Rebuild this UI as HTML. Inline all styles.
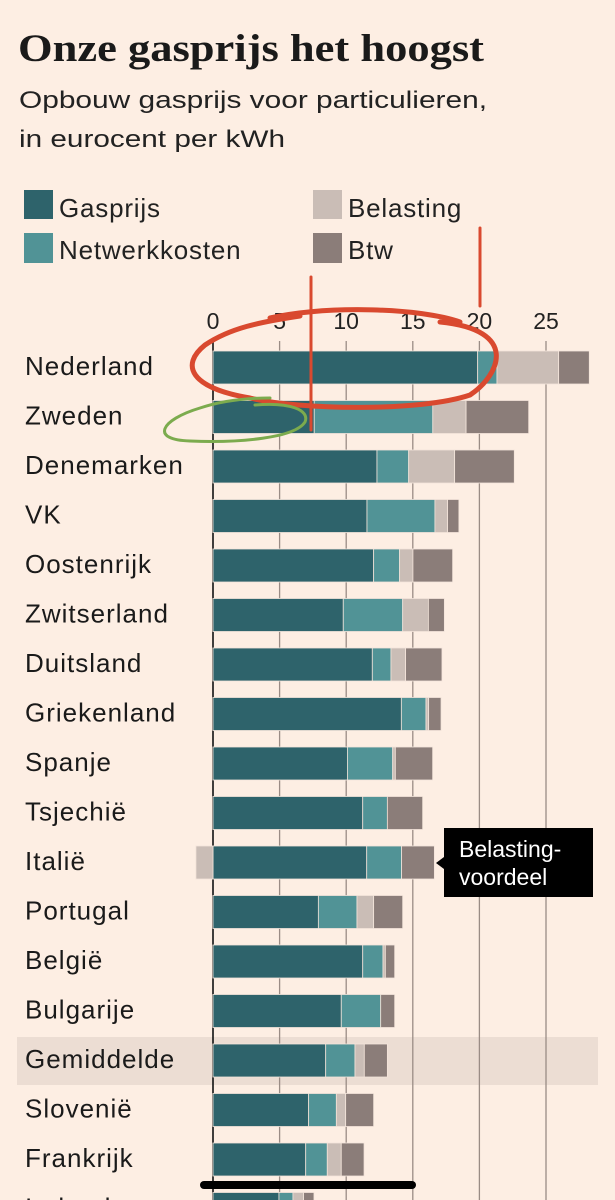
<!DOCTYPE html>
<html><head><meta charset="utf-8">
<style>
html,body{margin:0;padding:0;background:#fdeee3;}
body{width:615px;height:1200px;overflow:hidden;position:relative;font-family:"Liberation Sans",sans-serif;}
svg{position:absolute;left:0;top:0;}
</style></head>
<body>
<svg id="chart" width="615" height="1200" viewBox="0 0 615 1200">
  <rect x="0" y="0" width="615" height="1200" fill="#fdeee3"/>
  <text x="18" y="61" font-family="Liberation Serif, serif" font-weight="bold" font-size="39" fill="#1a1a1a" textLength="466" lengthAdjust="spacingAndGlyphs">Onze gasprijs het hoogst</text>
  <text x="19" y="108" font-size="24" fill="#222" textLength="468" lengthAdjust="spacingAndGlyphs">Opbouw gasprijs voor particulieren,</text>
  <text x="19" y="147" font-size="24" fill="#222" textLength="266" lengthAdjust="spacingAndGlyphs">in eurocent per kWh</text>
  <g>
    <rect x="24" y="190" width="29" height="29" fill="#2e636b"/>
    <text x="59" y="217" font-size="26" letter-spacing="0.8" fill="#222">Gasprijs</text>
    <rect x="24" y="233" width="29" height="30" fill="#519396"/>
    <text x="59" y="259" font-size="26" letter-spacing="0.8" fill="#222">Netwerkkosten</text>
    <rect x="313" y="190" width="29" height="29" fill="#cabdb6"/>
    <text x="348" y="217" font-size="26" letter-spacing="0.8" fill="#222">Belasting</text>
    <rect x="313" y="233" width="29" height="30" fill="#8b7d79"/>
    <text x="348" y="259" font-size="26" letter-spacing="0.8" fill="#222">Btw</text>
  </g>
  <rect x="17" y="1037" width="581" height="48" fill="#ecddd3"/>
  <g id="grid"></g>
  <g id="bars"></g>
  <g id="labels"></g>
  <g>
    <rect x="444" y="828" width="149" height="69" fill="#000"/>
    <polygon points="444,857 436,863 444,869" fill="#000"/>
    <text x="459" y="857" font-size="23" fill="#fff">Belasting-</text>
    <text x="459" y="885" font-size="23" fill="#fff">voordeel</text>
  </g>
  <g fill="none" stroke-linecap="round">
    <path d="M270,318 C330,305 420,308 460,322 M440,322 C520,330 500,375 470,395 C420,412 300,410 250,398 C190,388 180,365 205,345 C230,328 260,322 300,316" stroke="#d9492f" stroke-width="5"/>
    <line x1="311" y1="277" x2="311" y2="430" stroke="#d9492f" stroke-width="3"/>
    <line x1="480" y1="228" x2="480" y2="306" stroke="#d9492f" stroke-width="3"/>
    <path d="M255,405 C290,402 310,410 305,422 C295,438 240,443 190,441 C150,440 160,420 200,408 C230,398 260,398 270,398" stroke="#7cab4e" stroke-width="3"/>
  </g>
  <rect x="200" y="1181" width="216" height="8" rx="4" fill="#000"/>
</svg>
<script>
const countries = ["Nederland","Zweden","Denemarken","VK","Oostenrijk","Zwitserland","Duitsland","Griekenland","Spanje","Tsjechië","Italië","Portugal","België","Bulgarije","Gemiddelde","Slovenië","Frankrijk","Ierland"];
const gasprijs = [19.87,7.6,12.31,11.56,12.06,9.78,11.96,14.14,10.09,11.24,11.54,7.91,11.24,9.63,8.46,7.18,6.96,4.95];
const netwerk = [1.45,8.9,2.38,5.1,1.95,4.46,1.4,1.85,3.4,1.85,2.62,2.9,1.52,2.96,2.2,2.08,1.62,1.05];
const belasting = [4.63,2.5,3.45,0.95,1.0,1.93,1.1,0.2,0.2,0,-1.28,1.25,0.18,0,0.7,0.7,1.05,0.8];
const btw = [2.3,4.7,4.48,0.85,2.98,1.2,2.73,0.93,2.8,2.65,2.46,2.18,0.7,1.05,1.73,2.1,1.71,0.78];
const ticks = [0,5,10,15,20,25];

const NS = "http://www.w3.org/2000/svg";
const x0 = 213, pxPerUnit = 13.32, rowTop = 351, rowStep = 49.5, barH = 33;
const xs = v => x0 + v * pxPerUnit;
const ys = i => rowTop + i * rowStep;
const grid = document.getElementById('grid');
const bars = document.getElementById('bars');
const labels = document.getElementById('labels');

ticks.forEach(t => {
  if (t > 0) {
    const l = document.createElementNS(NS, 'line');
    l.setAttribute('x1', xs(t)); l.setAttribute('x2', xs(t));
    l.setAttribute('y1', 341); l.setAttribute('y2', 1200);
    l.setAttribute('stroke', '#9a8c85'); l.setAttribute('stroke-width', '1.3');
    
    
    grid.appendChild(l);
  }
  const tx = document.createElementNS(NS, 'text');
  tx.setAttribute('x', xs(t)); tx.setAttribute('y', 329);
  tx.setAttribute('text-anchor', 'middle'); tx.setAttribute('font-size', '23');
  tx.setAttribute('fill', '#222');
  tx.textContent = t;
  
  
  grid.appendChild(tx);
});
const zl = document.createElementNS(NS, 'line');
zl.setAttribute('x1', x0); zl.setAttribute('x2', x0);
zl.setAttribute('y1', 341); zl.setAttribute('y2', 1200);
zl.setAttribute('stroke', '#111'); zl.setAttribute('stroke-width', '1.6');


grid.appendChild(zl);

const series = [["gasprijs", gasprijs, "#2e636b"],["netwerkkosten", netwerk, "#519396"],["belasting", belasting, "#cabdb6"],["btw", btw, "#8b7d79"]];
countries.forEach((c, i) => {
  const y = ys(i);
  let acc = 0;
  series.forEach(([name, arr, col]) => {
    const v = arr[i];
    if (v === 0) return;
    const r = document.createElementNS(NS, 'rect');
    let a, b;
    if (v < 0) { a = xs(v); b = xs(0); }
    else { a = xs(acc); b = xs(acc + v); acc += v; }
    r.setAttribute('x', a); r.setAttribute('y', y);
    r.setAttribute('width', Math.max(0, b - a)); r.setAttribute('height', barH);
    r.setAttribute('fill', col);
    r.setAttribute('stroke', '#f3e4da'); r.setAttribute('stroke-width', '0.8');
    
    
    bars.appendChild(r);
  });
  const t = document.createElementNS(NS, 'text');
  t.setAttribute('x', 25); t.setAttribute('y', y + 24);
  t.setAttribute('font-size', '26'); t.setAttribute('letter-spacing', '1');
  t.setAttribute('fill', '#1a1a1a');
  t.textContent = c;
  
  
  labels.appendChild(t);
});
</script>
</body></html>
